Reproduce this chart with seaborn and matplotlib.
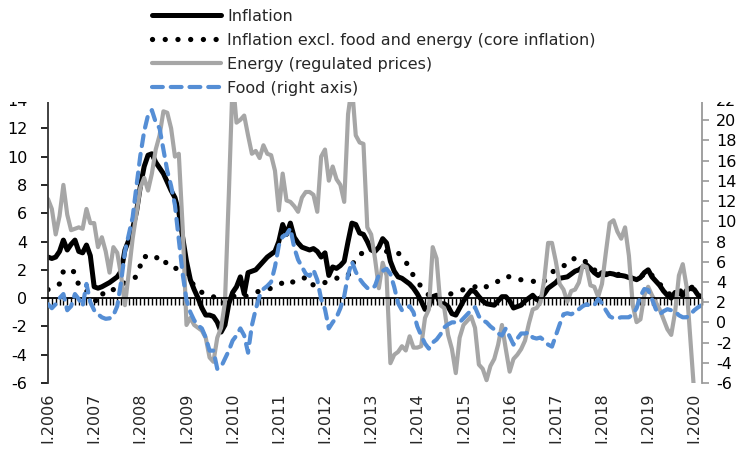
import numpy as np
import pandas as pd
import matplotlib
matplotlib.use("Agg")
import matplotlib.pyplot as plt
import seaborn as sns
from matplotlib.patches import Rectangle

# ---------------- data (monthly, Jan 2006 - Mar 2020) ----------------
inflation = [
    2.9, 2.8, 2.9, 3.3, 4.1, 3.4, 3.8, 4.1, 3.3, 3.2, 3.75, 3.0,
    0.8, 0.7, 0.8, 0.95, 1.1, 1.3, 1.5, 1.9, 3.4, 4.1, 4.9, 6.1,
    7.9, 9.3, 10.1, 10.2, 9.6, 9.2, 8.8, 8.2, 7.6, 7.1, 6.1, 4.3,
    2.6, 1.3, 0.6, 0.0, -0.7, -1.2, -1.2, -1.3, -1.7, -2.4, -1.9, -0.4,
    0.4, 0.8, 1.5, 0.3, 1.8, 1.9, 2.0, 2.3, 2.6, 2.9, 3.1, 3.3,
    4.0, 5.2, 4.5, 5.3, 4.3, 3.9, 3.6, 3.5, 3.4, 3.5, 3.3, 2.9,
    3.2, 1.6, 2.2, 2.1, 2.3, 2.6, 4.0, 5.3, 5.2, 4.6, 4.5, 4.0,
    3.4, 3.3, 3.6, 4.2, 3.9, 2.6, 1.9, 1.5, 1.4, 1.2, 1.0, 0.7,
    0.3, -0.2, -0.8, -0.6, 0.1, 0.2, -0.4, -0.4, -0.6, -1.1, -1.2, -0.7,
    -0.2, 0.2, 0.55, 0.45, 0.1, -0.2, -0.4, -0.45, -0.5, -0.2, 0.1, 0.1,
    -0.2, -0.7, -0.6, -0.5, -0.2, 0.0, 0.2, -0.1, 0.0, 0.3, 0.7, 0.9,
    1.1, 1.4, 1.45, 1.5, 1.7, 1.9, 2.0, 2.2, 2.35, 2.1, 1.8, 1.6,
    1.8, 1.65, 1.75, 1.7, 1.6, 1.6, 1.55, 1.45, 1.4, 1.3, 1.45, 1.8,
    2.0, 1.5, 1.2, 0.9, 0.5, 0.2, 0.0, 0.4, 0.35, 0.2, 0.55, 0.7,
    0.6, 0.2, 0.1,
]
core = [
    0.6, 0.7, 0.9, 1.0, 1.9, 1.8, 2.0, 1.8, 0.9, 0.6, 0.5, 0.2,
    -0.1, -0.3, 0.2, 0.6, 0.6, 0.6, 0.8, 0.9, 1.1, 1.3, 1.4, 1.5,
    2.3, 3.0, 2.8, 2.7, 2.8, 3.0, 2.7, 2.4, 2.1, 2.1, 2.1, 2.1,
    1.7, 1.2, 0.9, 0.8, 0.4, 0.3, 0.2, 0.1, -0.2, -0.4, -0.3, 0.0,
    0.1, 0.2, 0.1, 0.1, 0.2, 0.3, 0.4, 0.5, 0.5, 0.6, 0.7, 0.8,
    0.9, 1.1, 1.3, 1.2, 1.1, 1.2, 1.3, 1.5, 1.3, 0.9, 1.0, 1.1,
    1.1, 1.2, 1.3, 1.4, 1.5, 1.6, 1.6, 2.3, 2.8, 3.1, 3.2, 3.3,
    3.3, 3.3, 3.3, 3.3, 3.3, 3.3, 3.3, 3.2, 2.9, 2.6, 2.0, 1.6,
    1.2, 0.8, 0.5, 0.2, 0.0, -0.1, 0.1, 0.2, 0.3, 0.3, 0.4, 0.5,
    0.6, 0.7, 0.7, 0.8, 1.0, 0.9, 0.8, 0.9, 1.0, 1.2, 1.4, 1.55,
    1.5, 1.35, 1.3, 1.3, 1.25, 1.2, 1.2, 1.1, 1.0, 1.2, 1.45, 1.8,
    2.05, 2.2, 2.3, 2.3, 2.6, 2.85, 2.8, 2.75, 2.5, 2.2, 2.0, 1.8,
    1.8, 1.7, 1.8, 1.7, 1.7, 1.6, 1.6, 1.5, 1.4, 1.4, 1.5, 1.7,
    1.9, 1.6, 1.3, 1.0, 0.7, 0.4, 0.2, 0.4, 0.5, 0.5, 0.6, 0.8,
    0.7, 0.5, 0.3,
]
energy = [
    7.0, 6.3, 4.5, 5.8, 8.0, 5.9, 4.8, 4.9, 5.0, 4.9, 6.3, 5.3,
    5.3, 3.6, 4.3, 3.3, 1.8, 3.6, 3.2, 1.6, -0.5, 1.8, 4.2, 6.0,
    7.8, 8.5, 7.6, 8.8, 10.5, 11.5, 13.2, 13.1, 12.0, 10.0, 10.2, 5.0,
    -1.9, -1.4, -1.9, -2.1, -2.3, -2.8, -4.2, -4.5, -2.8, -2.1, -0.3, 7.3,
    15.5, 12.4, 12.6, 12.9, 11.5, 10.2, 10.4, 9.9, 10.8, 10.2, 10.1, 9.0,
    6.2, 8.8, 6.9, 6.8, 6.5, 6.1, 7.1, 7.5, 7.5, 7.3, 6.1, 10.0,
    10.5, 8.3, 9.3, 8.4, 8.0, 6.8, 13.0, 15.0, 11.5, 11.0, 10.9, 5.0,
    4.5, 2.8, 0.7, 2.5, 1.6, -4.6, -4.0, -3.8, -3.4, -3.7, -2.7, -3.5,
    -3.5, -3.4, -1.4, -0.8, 3.6, 2.8, -0.5, -0.7, -2.6, -3.6, -5.3, -2.8,
    -1.9, -1.6, -1.3, -2.1, -4.7, -5.0, -5.8, -4.8, -4.3, -3.3, -1.9, -3.6,
    -5.2, -4.3, -4.0, -3.6, -3.0, -1.8, -0.8, -0.7, -0.3, 1.3, 3.9, 3.9,
    2.6, 1.0, 0.6, -0.25, 0.5, 0.6, 1.1, 2.3, 2.2, 0.9, 0.8, 0.1,
    1.0, 3.2, 5.3, 5.5, 4.7, 4.2, 5.0, 3.0, -0.5, -1.7, -1.5, 0.2,
    0.8, 0.2, -0.3, -0.8, -1.5, -2.2, -2.6, -1.0, 1.6, 2.4, 0.8, -3.0,
    -6.8, -8.0, -9.0,
]
food = [
    1.8, 1.4, 1.8, 2.4, 2.8, 1.2, 1.6, 2.8, 2.3, 1.6, 3.8, 2.0,
    1.2, 0.8, 0.5, 0.35, 0.4, 0.7, 1.6, 4.0, 7.0, 8.7, 10.4, 13.5,
    16.5, 18.9, 20.5, 21.0, 19.8, 19.2, 17.1, 15.0, 13.5, 11.6, 8.2, 4.8,
    2.2, 1.0, 0.2, -0.3, -0.6, -1.5, -2.8, -2.8, -4.6, -4.4, -3.6, -2.8,
    -1.8, -1.3, -0.6, -1.3, -3.0, -0.3, 1.3, 2.6, 3.3, 3.6, 4.0, 5.5,
    7.6, 8.5, 8.7, 9.3, 7.4, 6.2, 5.5, 4.8, 4.6, 5.2, 4.2, 2.3,
    1.3, -0.6, 0.0, 0.5, 1.4, 2.6, 4.7, 6.0, 5.0, 4.3, 3.8, 3.4,
    3.3, 3.6, 4.7, 5.1, 5.3, 4.8, 3.5, 1.9, 1.2, 1.4, 1.6, 1.0,
    -0.4, -1.3, -2.1, -2.6, -2.0, -1.7, -1.2, -0.5, -0.2, 0.0, 0.0, 0.0,
    0.4, 0.8, 1.2, 1.5, 0.6, 0.2, 0.0, -0.4, -0.7, -1.1, -1.3, -0.6,
    -1.4, -2.2, -1.6, -1.1, -1.1, -1.0, -1.5, -1.6, -1.5, -1.8, -2.2, -2.4,
    -1.3, -0.2, 0.8, 0.9, 0.8, 1.0, 1.3, 1.6, 1.8, 1.6, 1.7, 2.3,
    1.9, 1.2, 0.6, 0.4, 0.4, 0.5, 0.5, 0.5, 0.8, 1.4, 2.6, 3.3,
    3.2, 2.3, 1.3, 0.8, 1.1, 1.3, 1.2, 1.1, 0.7, 0.5, 0.5, 0.8,
    1.2, 1.5, 1.7,
]
years = list(range(2006, 2021))
year_labels = [f"I.{y}" for y in years]
series_names = ["Inflation",
                "Inflation excl. food and energy (core inflation)",
                "Energy (regulated prices)",
                "Food (right axis)"]
left_ticks = list(range(-6, 15, 2))
right_ticks = list(range(-6, 23, 2))

# ---------------- figure ----------------
sns.set_theme(style="white")
plt.rcParams["font.family"] = ["DejaVu Sans"]

n = len(inflation)
month = np.arange(n)
df = pd.DataFrame({"month": month, "inflation": inflation, "core": core,
                   "energy": energy, "food": food})

W, H = 741, 450
fig = plt.figure(figsize=(W / 100, H / 100), dpi=100)
ax = fig.add_axes([48 / W, 1 - 383 / H, (702 - 48) / W, 283 / H])
ax2 = ax.twinx()

BLUE = "#558ED5"
GRAY = "#A6A6A6"

sns.lineplot(data=df, x="month", y="inflation", ax=ax, color="black",
             lw=3.6, solid_joinstyle="round")
sns.lineplot(data=df, x="month", y="core", ax=ax, color="black",
             lw=3.8, linestyle=(0, (0.01, 2.4)), dash_capstyle="round")
sns.lineplot(data=df, x="month", y="energy", ax=ax, color=GRAY, lw=3.0)
sns.lineplot(data=df, x="month", y="food", ax=ax2, color=BLUE, lw=3.0,
             linestyle=(0, (2.6, 1.9)), dash_capstyle="round")

ax.set_xlim(0, n - 1)
ax.set_ylim(-6, 14)
ax2.set_ylim(-6, 22)
ax.set_xlabel("")
ax.set_ylabel("")
ax2.set_ylabel("")

# left axis
ax.set_yticks(left_ticks)
ax.set_yticklabels([str(t) for t in left_ticks])
ax.tick_params(axis="y", direction="out", length=5, width=1.2, pad=10,
               labelsize=11.5, colors="black", left=True)
ax.spines["left"].set_color("#333333")
ax.spines["left"].set_linewidth(1.3)
ax.spines["top"].set_visible(False)
ax.spines["right"].set_visible(False)

# category axis at zero with monthly ticks
ax.spines["bottom"].set_position(("data", 0))
ax.spines["bottom"].set_color("black")
ax.spines["bottom"].set_linewidth(1.3)
ax.set_xticks(month)
ax.set_xticklabels([])
ax.tick_params(axis="x", direction="out", length=5, width=1.0,
               colors="black", bottom=True)

# year labels at the bottom
sec = ax.secondary_xaxis("bottom")
sec.set_xticks([12 * k for k in range(len(years))])
sec.set_xticklabels(year_labels, rotation=90, fontsize=11.5)
sec.tick_params(length=0, pad=7)
for s in sec.spines.values():
    s.set_visible(False)

# right axis
ax2.set_yticks(right_ticks)
ax2.set_yticklabels([str(t) for t in right_ticks])
ax2.tick_params(axis="y", direction="out", length=5, width=1.2, pad=5,
                labelsize=11.5, colors="black", right=True,
                color="#999999")
for side in ["left", "top", "bottom"]:
    ax2.spines[side].set_visible(False)
ax2.spines["right"].set_color("#999999")
ax2.spines["right"].set_linewidth(1.3)

# legend (white band on top)
fig.add_artist(Rectangle((0, 1 - 102 / H), 1, 102 / H, transform=fig.transFigure,
                         facecolor="white", edgecolor="none", zorder=4))
handles = ax.get_lines()[:3] + ax2.get_lines()[:1]
leg = fig.legend(handles, series_names, loc="upper left",
                 bbox_to_anchor=(152 / W, 1 - 9 / H), frameon=False,
                 fontsize=11.5, handlelength=4.3, handletextpad=0.4,
                 labelspacing=0.56, borderpad=0, borderaxespad=0)
leg.set_zorder(5)

fig.savefig("out.png", dpi=100)
